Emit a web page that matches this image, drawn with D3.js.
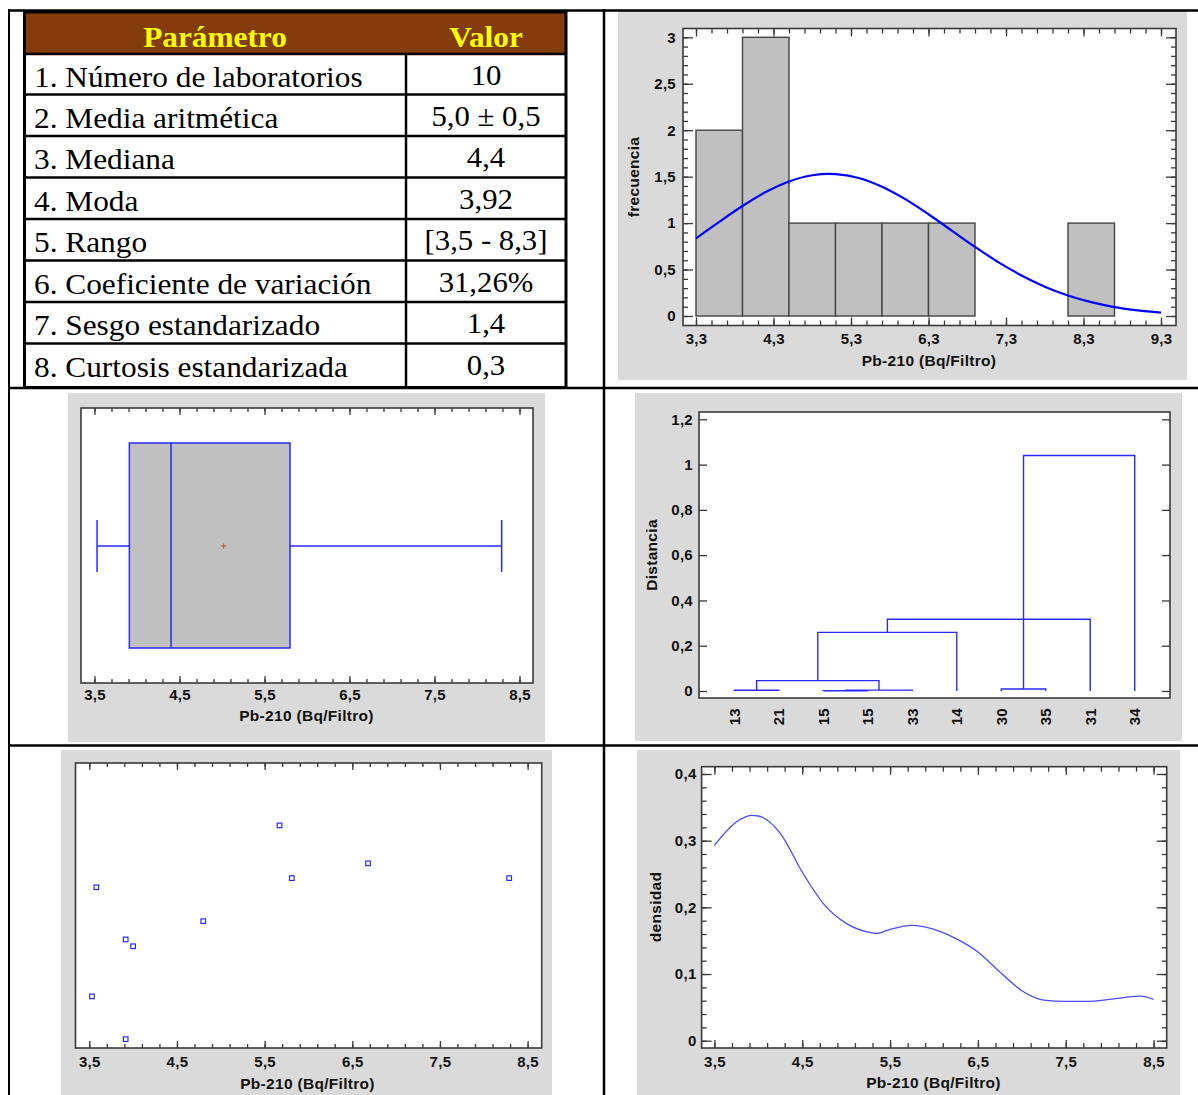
<!DOCTYPE html>
<html><head><meta charset="utf-8">
<script src="https://cdn.jsdelivr.net/npm/d3@7"></script>
<style>body{margin:0;background:#fff} svg{display:block}</style>
</head><body>
<svg id="c" width="1198" height="1095"></svg>
<script>
// ---------------- DATA ----------------
const tableHeader = ["Parámetro", "Valor"];
const paramNames = ["1. Número de laboratorios", "2. Media aritmética", "3. Mediana", "4. Moda",
  "5. Rango", "6. Coeficiente de variación", "7. Sesgo estandarizado", "8. Curtosis estandarizada"];
const paramValues = ["10", "5,0 ± 0,5", "4,4", "3,92", "[3,5 - 8,3]", "31,26%", "1,4", "0,3"];

const histBinStarts = [3.3, 3.9, 4.5, 5.1, 5.7, 6.3, 6.9, 7.5, 8.1];
const histBinWidth = 0.6;
const histCounts = [2, 3, 1, 1, 1, 1, 0, 0, 1];
const normalX = [3.3, 3.6, 3.9, 4.2, 4.5, 4.8, 5.1, 5.4, 5.7, 6.0, 6.3, 6.6, 6.9, 7.2, 7.5, 7.8, 8.1, 8.4, 8.7, 9.0, 9.3];
const normalY = [0.836, 1.014, 1.184, 1.334, 1.448, 1.515, 1.528, 1.486, 1.392, 1.258, 1.095, 0.919, 0.744, 0.580, 0.436, 0.316, 0.221, 0.149, 0.096, 0.060, 0.036];
const histXTicks = [3.3, 4.3, 5.3, 6.3, 7.3, 8.3, 9.3];
const histYTicks = [0, 0.5, 1, 1.5, 2, 2.5, 3];

const boxValues = [3.53, 3.91, 4.40, 5.80, 8.29]; // min, Q1, median, Q3, max
const boxMean = 5.02;
const valueXTicks = [3.5, 4.5, 5.5, 6.5, 7.5, 8.5];

const dendroLeaves = ["13", "21", "15", "15", "33", "14", "30", "35", "31", "34"];
// [position A, height A, position B, height B, merge height]
const dendroMerges = [
  [0, 0, 1, 0, 0.003],
  [2, 0, 3, 0, 0.001],
  [2.5, 0.001, 4, 0, 0.004],
  [0.5, 0.003, 3.25, 0.004, 0.046],
  [1.875, 0.046, 5, 0, 0.259],
  [6, 0, 7, 0, 0.009],
  [3.44, 0.259, 8, 0, 0.317],
  [6.5, 0.009, 9, 0, 1.04]
];
const dendroYTicks = [0, 0.2, 0.4, 0.6, 0.8, 1, 1.2];

const scatterX = [3.53, 3.58, 3.915, 3.915, 4.00, 4.80, 5.67, 5.81, 6.68, 8.29];
const scatterY = [0.181, 0.564, 0.381, 0.031, 0.357, 0.445, 0.781, 0.596, 0.648, 0.596];

const densityX = [3.5, 3.75, 3.92, 4.0, 4.25, 4.5, 4.75, 5.0, 5.25, 5.35, 5.5, 5.75, 6.0, 6.25, 6.5, 6.75, 7.0, 7.25, 7.5, 7.75, 8.0, 8.25, 8.35, 8.5];
const densityY = [0.293, 0.328, 0.338, 0.337, 0.311, 0.253, 0.204, 0.176, 0.163, 0.161, 0.167, 0.173, 0.167, 0.153, 0.133, 0.103, 0.075, 0.061, 0.059, 0.059, 0.062, 0.066, 0.067, 0.062];
const densityYTicks = [0, 0.1, 0.2, 0.3, 0.4];

// ---------------- HELPERS ----------------
const fmt = d3.formatLocale({decimal: ",", thousands: ".", grouping: [3], currency: ["", ""]}).format(".1~f");
const svg = d3.select("#c");
const PANEL = "#dadada", FRAME = "#3a3a3a", BLUE = "#2a2aff";
const SANS = "'Liberation Sans', Arial, sans-serif";
const SERIF = "'Liberation Serif', 'Times New Roman', serif";

function panel(x0, y0, x1, y1) {
  svg.append("rect").attr("x", x0).attr("y", y0).attr("width", x1 - x0).attr("height", y1 - y0).attr("fill", PANEL);
}
function frame(x0, y0, x1, y1) {
  svg.append("rect").attr("x", x0).attr("y", y0).attr("width", x1 - x0).attr("height", y1 - y0)
    .attr("fill", "#fff");
}
function frameBorder(x0, y0, x1, y1) {
  svg.append("rect").attr("x", x0).attr("y", y0).attr("width", x1 - x0).attr("height", y1 - y0)
    .attr("fill", "none").attr("stroke", FRAME).attr("stroke-width", 1.6);
}
function styleAxis(g) {
  g.select(".domain").remove();
  g.attr("color", FRAME).attr("font-family", SANS).attr("font-size", 15).attr("font-weight", "bold");
  g.selectAll("line").attr("stroke-width", 1.3);
  g.selectAll("text").attr("fill", "#111").attr("letter-spacing", "0.3px");
}
function ticks(axisFn, scale, at, values, size, labels, pad) {
  const a = axisFn(scale).tickValues(values).tickSizeInner(-size).tickSizeOuter(0)
    .tickPadding(pad || 6).tickFormat(labels ? fmt : "");
  const g = svg.append("g").attr("transform", at).call(a);
  styleAxis(g);
  return g;
}
function title(text, x, y, rotate) {
  const t = svg.append("text").attr("font-family", SANS).attr("font-size", 15.5).attr("font-weight", "bold")
    .attr("fill", "#111").attr("text-anchor", "middle").attr("letter-spacing", "0.3px").text(text);
  if (rotate) t.attr("transform", `translate(${x},${y}) rotate(-90)`).attr("dy", "0.35em");
  else t.attr("x", x).attr("y", y);
}
const rng = (a, b, s) => d3.range(Math.round((b - a) / s) + 1).map(i => +(a + i * s).toFixed(4));

// ---------------- PANELS ----------------
panel(618, 10, 1187, 380);
panel(68, 393, 545, 742);
panel(635, 393, 1182, 741);
panel(61, 750, 552, 1095);
panel(637, 750, 1180, 1095);

// ---------------- TABLE ----------------
const tX0 = 24.5, tX1 = 566, tDiv = 406;
const rowLines = [54, 94.5, 136, 177.5, 219, 260.5, 302, 343.5, 387.5];
svg.append("rect").attr("x", tX0).attr("y", 12).attr("width", tX1 - tX0).attr("height", 42).attr("fill", "#843c0c");
[[tableHeader[0], 215], [tableHeader[1], 486]].forEach(([t, x]) => {
  svg.append("text").attr("transform", `translate(${x},46.5) scale(1.08,1)`).attr("text-anchor", "middle")
    .attr("font-family", SERIF).attr("font-weight", "bold").attr("font-size", 29).attr("fill", "#ffff00").text(t);
});
paramNames.forEach((t, i) => {
  const top = rowLines[i];
  svg.append("text").attr("transform", `translate(34,${top + 33}) scale(1.08,1)`)
    .attr("font-family", SERIF).attr("font-size", 29).attr("fill", "#000").text(t);
  svg.append("text").attr("transform", `translate(486,${top + 31}) scale(1.06,1)`).attr("text-anchor", "middle")
    .attr("font-family", SERIF).attr("font-size", 29).attr("fill", "#000").text(paramValues[i]);
});
rowLines.slice(0, -1).forEach(y => svg.append("line").attr("x1", tX0).attr("x2", tX1).attr("y1", y).attr("y2", y)
  .attr("stroke", "#000").attr("stroke-width", 2.5));
svg.append("line").attr("x1", tDiv).attr("x2", tDiv).attr("y1", 54).attr("y2", 387.5).attr("stroke", "#000").attr("stroke-width", 2.5);
svg.append("rect").attr("x", tX0).attr("y", 12).attr("width", tX1 - tX0).attr("height", 375.5)
  .attr("fill", "none").attr("stroke", "#000").attr("stroke-width", 3);

// ---------------- HISTOGRAM ----------------
{
  const x = d3.scaleLinear().domain([3.3, 9.3]).range([696, 1161]);
  const y = d3.scaleLinear().domain([0, 3]).range([316, 37.3]);
  const X0 = 683, X1 = 1176, Y0 = 28.5, Y1 = 325.5;
  frame(X0, Y0, X1, Y1);
  svg.append("g").selectAll("rect").data(histCounts.map((c, i) => ({s: histBinStarts[i], c})).filter(d => d.c > 0))
    .join("rect").attr("x", d => x(d.s)).attr("width", d => x(d.s + histBinWidth) - x(d.s))
    .attr("y", d => y(d.c)).attr("height", d => y(0) - y(d.c))
    .attr("fill", "#c0c0c0").attr("stroke", "#444").attr("stroke-width", 1.4);
  svg.append("path").datum(normalX.map((v, i) => [v, normalY[i]]))
    .attr("d", d3.line().x(d => x(d[0])).y(d => y(d[1])).curve(d3.curveCatmullRom))
    .attr("fill", "none").attr("stroke", "#0000ff").attr("stroke-width", 2.2);
  const xm = rng(3.3, 9.3, 0.2), ym = rng(0, 3, 0.1);
  ticks(d3.axisBottom, x, `translate(0,${Y1})`, xm, 5, false);
  ticks(d3.axisTop, x, `translate(0,${Y0})`, xm, 5, false);
  ticks(d3.axisLeft, y, `translate(${X0},0)`, ym, 5, false);
  ticks(d3.axisRight, y, `translate(${X1},0)`, ym, 5, false);
  ticks(d3.axisBottom, x, `translate(0,${Y1})`, histXTicks, 8, true, 7.5);
  ticks(d3.axisTop, x, `translate(0,${Y0})`, histXTicks, 8, false);
  ticks(d3.axisLeft, y, `translate(${X0},0)`, histYTicks, 10, true, 7);
  ticks(d3.axisRight, y, `translate(${X1},0)`, histYTicks, 10, false);
  frameBorder(X0, Y0, X1, Y1);
  title("Pb-210 (Bq/Filtro)", 929, 365.5);
  title("frecuencia", 634, 177, true);
}

// ---------------- BOX PLOT ----------------
{
  const x = d3.scaleLinear().domain([3.5, 8.5]).range([94.5, 519.5]);
  const X0 = 81, X1 = 533, Y0 = 408, Y1 = 683;
  const bTop = 443, bBot = 648, bMid = 546, cap = 26;
  frame(X0, Y0, X1, Y1);
  const [mn, q1, md, q3, mx] = boxValues;
  const g = svg.append("g").attr("stroke", BLUE).attr("stroke-width", 1.5);
  g.append("rect").attr("x", x(q1)).attr("y", bTop).attr("width", x(q3) - x(q1)).attr("height", bBot - bTop).attr("fill", "#c0c0c0");
  g.append("line").attr("x1", x(md)).attr("x2", x(md)).attr("y1", bTop).attr("y2", bBot);
  g.append("line").attr("x1", x(mn)).attr("x2", x(q1)).attr("y1", bMid).attr("y2", bMid);
  g.append("line").attr("x1", x(q3)).attr("x2", x(mx)).attr("y1", bMid).attr("y2", bMid);
  g.append("line").attr("x1", x(mn)).attr("x2", x(mn)).attr("y1", bMid - cap).attr("y2", bMid + cap);
  g.append("line").attr("x1", x(mx)).attr("x2", x(mx)).attr("y1", bMid - cap).attr("y2", bMid + cap);
  const m = svg.append("g").attr("stroke", "#c0501a").attr("stroke-width", 1);
  m.append("line").attr("x1", x(boxMean) - 2.5).attr("x2", x(boxMean) + 2.5).attr("y1", bMid).attr("y2", bMid);
  m.append("line").attr("x1", x(boxMean)).attr("x2", x(boxMean)).attr("y1", bMid - 2.5).attr("y2", bMid + 2.5);
  const xm = rng(3.5, 8.5, 0.2);
  ticks(d3.axisBottom, x, `translate(0,${Y1})`, xm, 4, false);
  ticks(d3.axisTop, x, `translate(0,${Y0})`, xm, 4, false);
  ticks(d3.axisBottom, x, `translate(0,${Y1})`, valueXTicks, 7, true, 6.7);
  ticks(d3.axisTop, x, `translate(0,${Y0})`, valueXTicks, 7, false);
  frameBorder(X0, Y0, X1, Y1);
  title("Pb-210 (Bq/Filtro)", 306.5, 720.5);
}

// ---------------- DENDROGRAM ----------------
{
  const x = d3.scaleLinear().domain([0, 9]).range([734.4, 1134.7]);
  const y = d3.scaleLinear().domain([0, 1.2]).range([691, 419.3]);
  const X0 = 699, X1 = 1170, Y0 = 412, Y1 = 698;
  frame(X0, Y0, X1, Y1);
  const g = svg.append("g").attr("fill", "none").attr("stroke", BLUE).attr("stroke-width", 1.4);
  dendroMerges.forEach(([a, ha, b, hb, h]) => {
    g.append("path").attr("d", `M${x(a)},${y(ha)}V${y(h)}H${x(b)}V${y(hb)}`);
  });
  ticks(d3.axisLeft, y, `translate(${X0},0)`, dendroYTicks, 8, true, 6);
  ticks(d3.axisRight, y, `translate(${X1},0)`, dendroYTicks, 8, false);
  frameBorder(X0, Y0, X1, Y1);
  svg.append("g").selectAll("text").data(dendroLeaves).join("text")
    .attr("transform", (d, i) => `translate(${x(i)},708) rotate(-90)`)
    .attr("text-anchor", "end").attr("dy", "0.36em")
    .attr("font-family", SANS).attr("font-size", 15).attr("font-weight", "bold").attr("fill", "#111")
    .attr("letter-spacing", "0.3px").text(d => d);
  title("Distancia", 652, 555, true);
}

// ---------------- SCATTER ----------------
{
  const x = d3.scaleLinear().domain([3.5, 8.5]).range([89.3, 527.6]);
  const y = d3.scaleLinear().domain([0, 1]).range([1048, 763]);
  const X0 = 75.5, X1 = 541.7, Y0 = 763, Y1 = 1048;
  frame(X0, Y0, X1, Y1);
  const xm = rng(3.5, 8.5, 0.2);
  ticks(d3.axisBottom, x, `translate(0,${Y1})`, xm, 4, false);
  ticks(d3.axisTop, x, `translate(0,${Y0})`, xm, 4, false);
  ticks(d3.axisBottom, x, `translate(0,${Y1})`, valueXTicks, 7, true, 8);
  ticks(d3.axisTop, x, `translate(0,${Y0})`, valueXTicks, 7, false);
  svg.append("g").selectAll("rect").data(scatterX.map((v, i) => [v, scatterY[i]])).join("rect")
    .attr("x", d => x(d[0]) - 2.3).attr("y", d => y(d[1]) - 2.3).attr("width", 4.6).attr("height", 4.6)
    .attr("fill", "#fff").attr("stroke", BLUE).attr("stroke-width", 1.2);
  frameBorder(X0, Y0, X1, Y1);
  title("Pb-210 (Bq/Filtro)", 307.5, 1088.5);
}

// ---------------- DENSITY ----------------
{
  const x = d3.scaleLinear().domain([3.5, 8.5]).range([714.4, 1153.6]);
  const y = d3.scaleLinear().domain([0, 0.4]).range([1040.7, 774]);
  const X0 = 701.6, X1 = 1166.7, Y0 = 766.7, Y1 = 1048;
  frame(X0, Y0, X1, Y1);
  svg.append("path").datum(densityX.map((v, i) => [v, densityY[i]]))
    .attr("d", d3.line().x(d => x(d[0])).y(d => y(d[1])).curve(d3.curveMonotoneX))
    .attr("fill", "none").attr("stroke", "#4a4aff").attr("stroke-width", 1.3);
  const xm = rng(3.5, 8.5, 0.2), ym = rng(0, 0.4, 0.02);
  ticks(d3.axisBottom, x, `translate(0,${Y1})`, xm, 5, false);
  ticks(d3.axisTop, x, `translate(0,${Y0})`, xm, 5, false);
  ticks(d3.axisLeft, y, `translate(${X0},0)`, ym, 5, false);
  ticks(d3.axisRight, y, `translate(${X1},0)`, ym, 5, false);
  ticks(d3.axisBottom, x, `translate(0,${Y1})`, valueXTicks, 8, true, 8.4);
  ticks(d3.axisTop, x, `translate(0,${Y0})`, valueXTicks, 8, false);
  ticks(d3.axisLeft, y, `translate(${X0},0)`, densityYTicks, 10, true, 5);
  ticks(d3.axisRight, y, `translate(${X1},0)`, densityYTicks, 10, false);
  frameBorder(X0, Y0, X1, Y1);
  title("Pb-210 (Bq/Filtro)", 933.5, 1087.8);
  title("densidad", 656, 907, true);
}

// ---------------- OUTER GRID LINES ----------------
const grid = svg.append("g").attr("stroke", "#000");
grid.append("line").attr("x1", 8).attr("x2", 1198).attr("y1", 10.5).attr("y2", 10.5).attr("stroke-width", 2.5);
grid.append("line").attr("x1", 9).attr("x2", 9).attr("y1", 9).attr("y2", 1095).attr("stroke-width", 2);
grid.append("line").attr("x1", 604).attr("x2", 604).attr("y1", 9).attr("y2", 1095).attr("stroke-width", 2.5);
grid.append("line").attr("x1", 8).attr("x2", 1198).attr("y1", 388).attr("y2", 388).attr("stroke-width", 2.5);
grid.append("line").attr("x1", 8).attr("x2", 1198).attr("y1", 745.5).attr("y2", 745.5).attr("stroke-width", 2.5);
</script>
</body></html>
